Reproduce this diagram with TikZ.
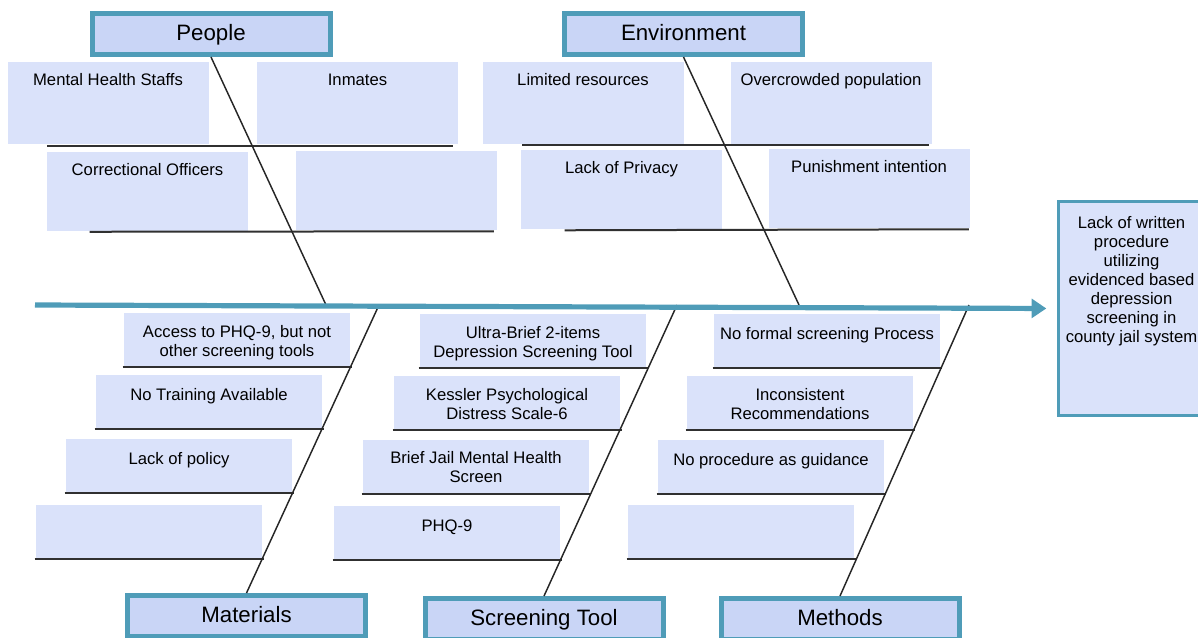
\documentclass[tikz,border=0pt]{standalone}
\usepackage{fontspec}
\setmainfont{Liberation Sans}
\usepackage{xcolor}
\usetikzlibrary{arrows.meta,calc}
\definecolor{fishteal}{HTML}{4F9CB8}
\definecolor{headblue}{HTML}{C9D5F6}
\definecolor{boxblue}{HTML}{DAE2FA}
\definecolor{bonegray}{HTML}{303030}

\begin{document}
\begin{tikzpicture}[x=0.75pt,y=-0.75pt,
 head/.style={rectangle,draw=fishteal,line width=3.75pt,fill=headblue,minimum width=178.5pt,minimum height=30.75pt,text height=1em,text depth=0.1em,font=\fontsize{16.7}{20}\selectfont},
 tall/.style={rectangle,fill=boxblue,inner sep=0pt,minimum width=150.75pt,minimum height=61.5pt},
 short/.style={rectangle,fill=boxblue,inner sep=0pt,minimum width=169.5pt,minimum height=39.75pt},
 effect/.style={rectangle,draw=fishteal,line width=2.25pt,fill=boxblue,minimum width=109.5pt,minimum height=160.5pt},
 txt/.style={anchor=north,yshift=-7.75pt,inner sep=0pt,align=center,font=\fontsize{12.5}{14.3}\selectfont,execute at begin node=\strut},
 low/.style={txt,yshift=-1.5pt},
 bone/.style={draw=bonegray,line width=1.5pt},
 rib/.style={draw=black!85,line width=1.1pt},
 spine/.style={draw=fishteal,line width=3.9pt,-{Triangle[length=11pt,width=14pt]}}
]
\useasboundingbox (0,0) rectangle (1198,637);
\node[head] (ppl) at (211,34) {People};
\node[head] (env) at (683.5,34) {Environment};
\node[head] (mat) at (246.5,616) {Materials};
\node[head] (scr) at (544,619) {Screening Tool};
\node[head] (met) at (840,619) {Methods};
\node[effect,label={[txt,yshift=-4pt]north:{Lack of written\\procedure\\utilizing\\evidenced based\\depression\\screening in\\county jail system}}] (eff) at (1131.5,308.5) {};

\node[tall,label={[txt]north:Mental Health Staffs}] (mhs) at (108,103) {};
\node[tall,label={[txt]north:Inmates}] (inm) at (357.5,103) {};
\node[tall,minimum height=59.25pt,label={[txt]north:Correctional Officers}] (cor) at (147.5,191) {};
\node[tall,minimum height=59.25pt] (pe) at (396,190.5) {};
\node[tall,label={[txt]north:Limited resources}] (lim) at (583,103) {};
\node[tall,label={[txt]north:Overcrowded population}] (ovc) at (831,103) {};
\node[tall,minimum height=59.25pt,label={[txt]north:Lack of Privacy}] (pri) at (621.5,189.5) {};
\node[tall,minimum height=59.25pt,label={[txt]north:Punishment intention}] (pun) at (869,188.5) {};

\node[short,label={[low]north:{Access to PHQ-9, but not\\other screening tools}}] (acc) at (237,339.5) {};
\node[short,label={[low]north:No Training Available}] (ntr) at (209,401.5) {};
\node[short,label={[low]north:Lack of policy}] (pol) at (179,465.5) {};
\node[short] (me) at (149,531) {};
\node[short,label={[low]north:{Ultra-Brief 2-items\\Depression Screening Tool}}] (ub) at (533,340.5) {};
\node[short,label={[low]north:{Kessler Psychological\\Distress Scale-6}}] (k6) at (507,402.5) {};
\node[short,label={[low]north:{Brief Jail Mental Health\\Screen}}] (bj) at (476,466) {};
\node[short,label={[low]north:PHQ-9}] (phq) at (447,532) {};
\node[short,label={[low]north:No formal screening Process}] (nfp) at (827,340.5) {};
\node[short,label={[low]north:{Inconsistent\\Recommendations}}] (inc) at (800,402.5) {};
\node[short,label={[low]north:No procedure as guidance}] (npg) at (771,466) {};
\node[short] (te) at (741,531) {};

\coordinate (tail) at (35,305);
\coordinate (jppl) at (326,305); \coordinate (jenv) at (799,305);
\coordinate (jmat) at (379,305); \coordinate (jscr) at (677,305); \coordinate (jmet) at (969,305);

\draw[bone] ($(mhs.south west)+(40,2)$) -- ($(inm.south east)+(-5,2)$);
\draw[bone] ($(cor.south west)+(43,1)$) -- ($(pe.south east)+(-3,1)$);
\draw[bone] ($(lim.south west)+(40,1)$) -- ($(ovc.south east)+(-3,1)$);
\draw[bone] ($(pri.south west)+(44,1)$) -- ($(pun.south east)+(-1,1)$);
\foreach \b in {acc,ntr,pol,me,ub,k6,bj,phq,nfp,inc,npg,te}
  \draw[bone] ($(\b.south west)+(-1,1)$) -- ($(\b.south east)+(2,1)$);

\draw[rib] (ppl.south) -- (jppl); \draw[rib] (env.south) -- (jenv);
\draw[rib] (mat.north) -- (jmat); \draw[rib] (scr.north) -- (jscr); \draw[rib] (met.north) -- (jmet);
\draw[spine,shorten >=8pt] (tail) -- (eff.west);
\end{tikzpicture}
\end{document}
